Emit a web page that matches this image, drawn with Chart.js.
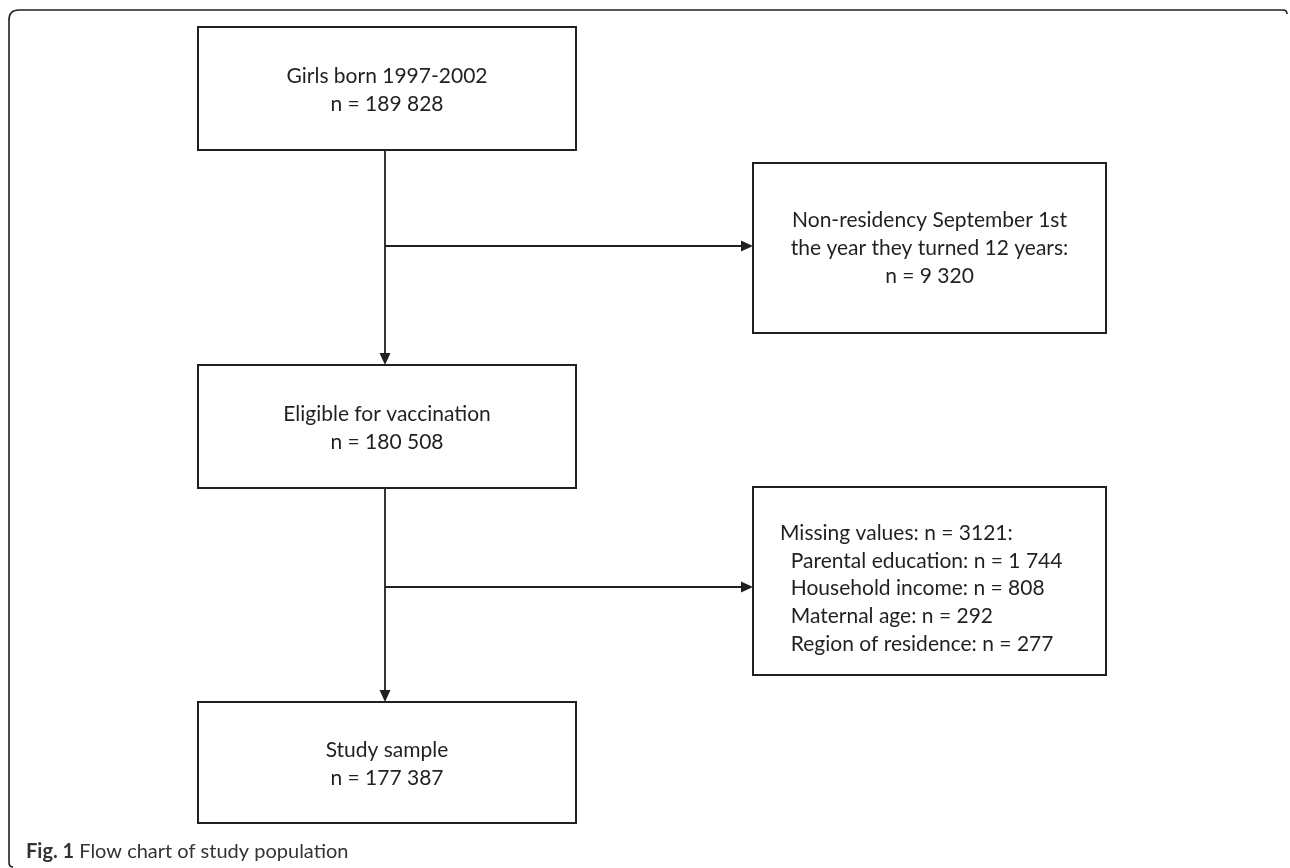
<!DOCTYPE html>
<html>
<head>
<meta charset="utf-8">
<script src="https://cdn.jsdelivr.net/npm/chart.js@4/dist/chart.umd.min.js"></script>
<style>
  html, body { margin: 0; padding: 0; background: #fff; }
  #wrap { width: 1290px; height: 868px; }
</style>
</head>
<body>
<div id="wrap"><canvas id="flow" width="1290" height="868"></canvas></div>
<script>
// Flow chart populasi studi, digambar lewat plugin Chart.js di atas skala linear tersembunyi.

// --- data ---
const stepLabels = ["Girls born 1997-2002", "Eligible for vaccination", "Study sample"];
const stepCounts = ["189 828", "180 508", "177 387"];
const nonResidentLines = ["Non-residency September 1st", "the year they turned 12 years:"];
const nonResidentCount = "9 320";
const missingTotal = "3121";
const missingReasons = ["Parental education", "Household income", "Maternal age", "Region of residence"];
const missingCounts = ["1 744", "808", "292", "277"];
const captionBold = "Fig. 1";
const captionText = " Flow chart of study population";

// --- layout (koordinat skala, bukan data) ---
const MAIN_X = [198, 576];
const SIDE_X = [753, 1106];
const MAIN_Y = [[27, 150], [365, 488], [702, 823]];
const SIDE_Y = [[163, 333], [487, 675]];
const TRUNK_X = 385;
const BRANCH_Y = [246, 587];

const INK = "#231f20";
const FONT = "Lato, 'Open Sans', sans-serif";

const flowPlugin = {
  id: "flow",
  afterDraw(chart) {
    const { ctx, scales: { x, y } } = chart;
    const px = (v) => x.getPixelForValue(v);
    const py = (v) => y.getPixelForValue(v);
    ctx.save();
    ctx.strokeStyle = INK;
    ctx.fillStyle = INK;

    // bingkai luar
    ctx.lineWidth = 1.6;
    ctx.beginPath();
    ctx.moveTo(px(1287), py(14));
    ctx.quadraticCurveTo(px(1287), py(10), px(1283), py(10));
    ctx.lineTo(px(19), py(10));
    ctx.quadraticCurveTo(px(9), py(10), px(9), py(20));
    ctx.lineTo(px(9), py(862));
    ctx.quadraticCurveTo(px(9), py(867), px(13), py(867));
    ctx.stroke();

    ctx.lineWidth = 2;
    const box = (xr, yr) => {
      ctx.strokeRect(px(xr[0]), py(yr[0]), px(xr[1]) - px(xr[0]), py(yr[1]) - py(yr[0]));
    };
    MAIN_Y.forEach((yr) => box(MAIN_X, yr));
    SIDE_Y.forEach((yr) => box(SIDE_X, yr));

    const arrowHead = (tx, ty, dir) => {
      ctx.beginPath();
      if (dir === "down") {
        ctx.moveTo(tx, ty);
        ctx.lineTo(tx - 5.5, ty - 12);
        ctx.lineTo(tx + 5.5, ty - 12);
      } else {
        ctx.moveTo(tx, ty);
        ctx.lineTo(tx - 12, ty - 5.5);
        ctx.lineTo(tx - 12, ty + 5.5);
      }
      ctx.closePath();
      ctx.fill();
    };

    // panah
    ctx.lineWidth = 1.8;
    for (let i = 0; i < 2; i++) {
      ctx.beginPath();
      ctx.moveTo(px(TRUNK_X), py(MAIN_Y[i][1]));
      ctx.lineTo(px(TRUNK_X), py(MAIN_Y[i + 1][0]) - 10);
      ctx.moveTo(px(TRUNK_X), py(BRANCH_Y[i]));
      ctx.lineTo(px(SIDE_X[0]) - 10, py(BRANCH_Y[i]));
      ctx.stroke();
      arrowHead(px(TRUNK_X), py(MAIN_Y[i + 1][0]), "down");
      arrowHead(px(SIDE_X[0]), py(BRANCH_Y[i]), "right");
    }

    // teks
    ctx.font = "21px " + FONT;
    ctx.textBaseline = "middle";
    ctx.textAlign = "center";
    const mainCx = px((MAIN_X[0] + MAIN_X[1]) / 2);
    stepLabels.forEach((lab, i) => {
      const cy = py((MAIN_Y[i][0] + MAIN_Y[i][1]) / 2);
      ctx.fillText(lab, mainCx, cy - 12);
      ctx.fillText("n = " + stepCounts[i], mainCx, cy + 16);
    });

    const sideCx = px((SIDE_X[0] + SIDE_X[1]) / 2);
    const nrLines = [...nonResidentLines, "n = " + nonResidentCount];
    nrLines.forEach((t, i) => ctx.fillText(t, sideCx, py(220) + i * 28));

    ctx.textAlign = "left";
    const mLines = ["Missing values: n = " + missingTotal + ":"].concat(
      missingReasons.map((r, i) => "  " + r + ": n = " + missingCounts[i])
    );
    mLines.forEach((t, i) => ctx.fillText(t, px(780), py(533) + i * 27.8));

    // keterangan gambar
    ctx.fillStyle = "#333";
    ctx.font = "bold 20px " + FONT;
    ctx.fillText(captionBold, px(26), py(852));
    const w = ctx.measureText(captionBold).width;
    ctx.font = "20px " + FONT;
    ctx.fillText(captionText, px(26) + w, py(852));
    ctx.restore();
  },
};

new Chart(document.getElementById("flow"), {
  type: "scatter",
  data: { datasets: [{ data: [], pointRadius: 0 }] },
  options: {
    responsive: false,
    animation: false,
    events: [],
    layout: { padding: 0 },
    plugins: { legend: { display: false }, tooltip: { enabled: false } },
    scales: {
      x: { type: "linear", min: 0, max: 1290, display: false },
      y: { type: "linear", min: 0, max: 868, reverse: true, display: false },
    },
  },
  plugins: [flowPlugin],
});
</script>
</body>
</html>
